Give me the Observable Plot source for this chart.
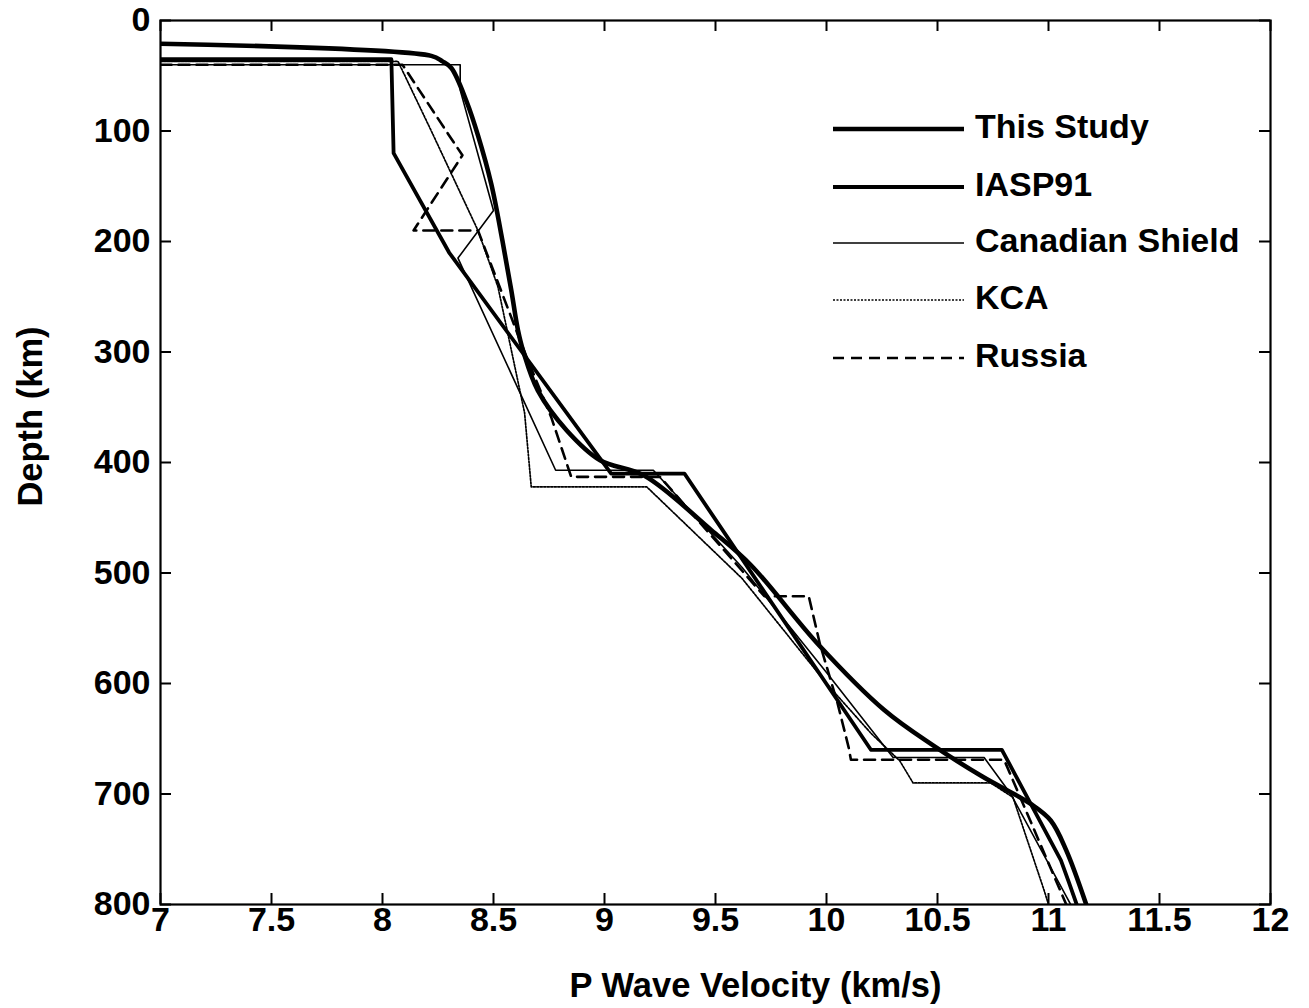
<!DOCTYPE html>
<html><head><meta charset="utf-8">
<script src="https://cdn.jsdelivr.net/npm/d3@7"></script>
<script src="https://cdn.jsdelivr.net/npm/@observablehq/plot@0.6"></script>
<style>
body{margin:0;background:#fff;}
#wrap{position:relative;width:1309px;height:1008px;}
#legend{position:absolute;left:0;top:0;pointer-events:none;}
</style></head><body><div id="wrap"></div>
<script>
// ---- tick labels ----
const xTicks = [7, 7.5, 8, 8.5, 9, 9.5, 10, 10.5, 11, 11.5, 12];
const yTicks = [0, 100, 200, 300, 400, 500, 600, 700, 800];
const seriesNames = ["This Study", "IASP91", "Canadian Shield", "KCA", "Russia"];

// ---- series values: P velocity (km/s) and depth (km) ----
const thisStudyV     = [7.0, 8.22, 8.27, 8.31, 8.38, 8.43, 8.49, 8.54, 8.58, 8.61, 8.635, 8.70, 8.83, 8.98, 9.18, 9.48, 9.66, 9.96, 10.26, 10.48, 10.70, 10.92, 11.01, 11.08, 11.17];
const thisStudyDepth = [21,  32,   37,   43,   74,   104,  148,  199,  244,  280,  300,   335,  371,  398,  412,  461,  493,  564,  624,   656,   684,   709,   724,   751,   800];

const iaspV     = [7.0, 8.04, 8.05, 8.30, 9.03, 9.36, 10.20, 10.79, 11.056, 11.092, 11.127];
const iaspDepth = [35,  35,   120,  210,  410,  410,  660,   660,   760,    780,    800];

const canadianV     = [7.0, 8.35, 8.35, 8.50, 8.34, 8.78, 9.22, 9.62, 10.00, 10.30, 10.71, 10.83, 11.10];
const canadianDepth = [40,  40,   63,   172,  215,  407,  407,  495,  590,   667,   667,   700,   800];

const kcaV     = [7.0, 8.07, 8.22, 8.43, 8.52, 8.64, 8.67, 9.19, 9.62, 10.00, 10.20, 10.33, 10.39, 10.74, 10.84, 10.98, 11.00];
const kcaDepth = [37,  37,   100,  190,  241,  355,  422,  422,  505,  600,   645,   670,   690,   690,   703,   787,   800];

const russiaV     = [7.0, 8.09, 8.30, 8.36, 8.14, 8.43, 8.64, 8.76, 8.83, 8.85, 9.25, 9.72, 9.92, 9.97, 10.05, 10.10, 10.11, 10.80, 11.08];
const russiaDepth = [40,  40,   104,  122,  190,  190,  300,  359,  401,  413,  413,  521,  521,  564,  618,   658,   669,   669,   800];

const seriesV = [thisStudyV, iaspV, canadianV, kcaV, russiaV];
const seriesDepth = [thisStudyDepth, iaspDepth, canadianDepth, kcaDepth, russiaDepth];

const lineStyle = {
  "This Study":      {strokeWidth: 4.6, strokeDasharray: null,    curve: "catmull-rom"},
  "IASP91":          {strokeWidth: 3.8, strokeDasharray: null,    curve: "linear"},
  "Canadian Shield": {strokeWidth: 1.6, strokeDasharray: null,    curve: "linear"},
  "KCA":             {strokeWidth: 1.7, strokeDasharray: "2,1.5", curve: "linear"},
  "Russia":          {strokeWidth: 2.6, strokeDasharray: "11,7",  curve: "linear"}
};

const W = 1309, H = 1008, mL = 160, mR = 39, mT = 20, mB = 104;
const fw = W - mL - mR, fh = H - mT - mB;
const FONT = "'Liberation Sans', Arial, Helvetica, sans-serif";

const rows = [];
seriesNames.forEach((name, i) => {
  seriesV[i].forEach((v, j) => rows.push({model: name, v, depth: seriesDepth[i][j]}));
});

const lineMarks = seriesNames.slice().reverse().map(name => {
  const s = lineStyle[name];
  return Plot.line(rows.filter(r => r.model === name), {
    x: "v", y: "depth", stroke: "black",
    strokeWidth: s.strokeWidth, strokeDasharray: s.strokeDasharray,
    curve: s.curve, clip: true, strokeLinejoin: "round"
  });
});

const chart = Plot.plot({
  width: W, height: H,
  marginLeft: mL, marginRight: mR, marginTop: mT, marginBottom: mB,
  style: {fontFamily: FONT, fontWeight: "bold", fontSize: "34px", color: "black", background: "white"},
  x: {domain: [7, 12]},
  y: {domain: [0, 800], reverse: true},
  marks: [
    ...lineMarks,
    Plot.ruleX(xTicks, {x: d => d, insetTop: fh - 11, strokeWidth: 2}),
    Plot.ruleX(xTicks, {x: d => d, insetBottom: fh - 11, strokeWidth: 2}),
    Plot.ruleY(yTicks, {y: d => d, insetRight: fw - 11, strokeWidth: 2}),
    Plot.ruleY(yTicks, {y: d => d, insetLeft: fw - 11, strokeWidth: 2}),
    Plot.frame({stroke: "black", strokeWidth: 2.2}),
    Plot.axisX(xTicks, {tickSize: 0, tickPadding: 2, label: null, tickFormat: d => String(d), fontSize: 34}),
    Plot.axisY(yTicks, {tickSize: 0, tickPadding: 10, label: null, tickFormat: d => String(d), fontSize: 34}),
    Plot.text(["P Wave Velocity (km/s)"], {frameAnchor: "bottom", dx: 40, dy: 92, textAnchor: "middle", text: d => d, fontSize: 34.5, fontWeight: "bold"}),
    Plot.text(["Depth (km)"], {frameAnchor: "left", dx: -130, dy: -46, rotate: -90, textAnchor: "middle", text: d => d, fontSize: 34.5, fontWeight: "bold"})
  ]
});
document.getElementById("wrap").appendChild(chart);

// ---- legend overlay (inside the plot frame, as in the original) ----
const legendY = [129, 187, 243, 300, 358];
const leg = d3.select("#wrap").append("svg").attr("id", "legend")
  .attr("width", W).attr("height", H);
seriesNames.forEach((name, i) => {
  const s = lineStyle[name];
  leg.append("line").attr("x1", 833).attr("x2", 964).attr("y1", legendY[i]).attr("y2", legendY[i])
    .attr("stroke", "black").attr("stroke-width", s.strokeWidth)
    .attr("stroke-dasharray", s.strokeDasharray);
  leg.append("text").attr("x", 975).attr("y", legendY[i] - 3).attr("dy", "0.36em")
    .attr("font-family", FONT)
    .attr("font-weight", "bold").attr("font-size", 34).attr("fill", "black")
    .text(name);
});
</script></body></html>
